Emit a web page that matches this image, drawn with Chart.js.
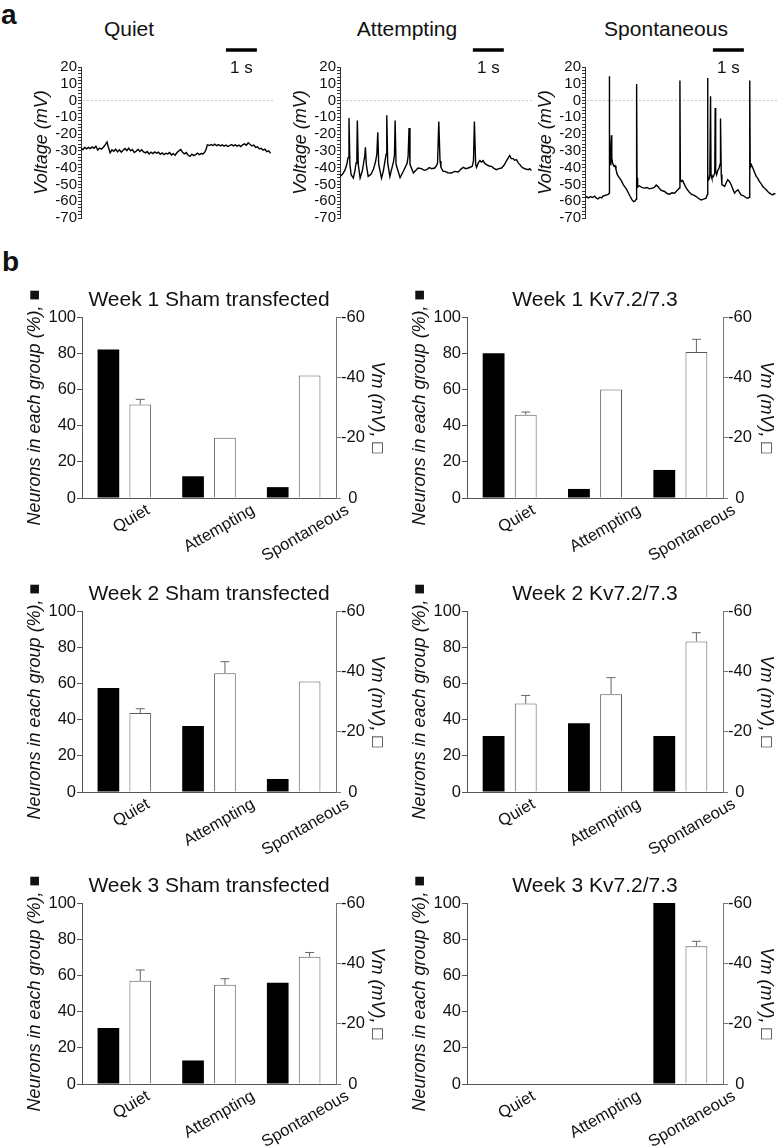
<!DOCTYPE html>
<html>
<head>
<meta charset="utf-8">
<script src="https://cdn.jsdelivr.net/npm/chart.js@4.4.1/dist/chart.umd.min.js"></script>
<style>
  body { margin: 0; background: #fff; }
  #page { position: relative; width: 777px; height: 1148px; overflow: hidden;
          font-family: 'Liberation Sans', Arial, sans-serif; color: #111; }
  canvas, .txt { position: absolute; }
  .panel { font-size: 28px; font-weight: bold; line-height: 1; }
  .trace-title { font-size: 21px; line-height: 1; width: 200px; text-align: center; }
</style>
</head>
<body>
<div id="page">
  <div class="txt panel" style="left:1px;top:1px">a</div>
  <div class="txt panel" style="left:2px;top:248px">b</div>
  <div class="txt trace-title" style="left:29px;top:18px">Quiet</div>
  <div class="txt trace-title" style="left:307px;top:18px">Attempting</div>
  <div class="txt trace-title" style="left:566px;top:18px">Spontaneous</div>

  <canvas id="traceQuiet" width="275" height="230" style="left:0;top:0"></canvas>
  <canvas id="traceAttempting" width="275" height="230" style="left:259px;top:0"></canvas>
  <canvas id="traceSpontaneous" width="275" height="230" style="left:504px;top:0"></canvas>

  <canvas id="wk1Sham" width="400" height="307" style="left:0;top:255px"></canvas>
  <canvas id="wk1Kv" width="377" height="307" style="left:400px;top:255px"></canvas>
  <canvas id="wk2Sham" width="400" height="307" style="left:0;top:549px"></canvas>
  <canvas id="wk2Kv" width="377" height="307" style="left:400px;top:549px"></canvas>
  <canvas id="wk3Sham" width="400" height="307" style="left:0;top:841px"></canvas>
  <canvas id="wk3Kv" width="377" height="307" style="left:400px;top:841px"></canvas>
</div>
<script>
// ---- panel a: membrane potential traces, [time (s), voltage (mV)] ----
const quietTrace = [
  [0.00,-28.5],[0.06,-29.2],[0.12,-28.0],[0.18,-28.8],[0.24,-27.9],[0.30,-28.6],[0.36,-27.6],[0.42,-28.4],
  [0.48,-27.2],[0.54,-29.5],[0.60,-28.3],[0.66,-29.0],[0.72,-27.8],[0.78,-26.5],[0.84,-24.7],[0.88,-27.5],
  [0.94,-31.2],[1.00,-29.4],[1.06,-30.2],[1.12,-29.0],[1.18,-30.6],[1.24,-29.4],[1.30,-30.8],[1.36,-29.6],
  [1.42,-28.6],[1.48,-29.8],[1.54,-28.4],[1.60,-30.0],[1.66,-29.2],[1.72,-31.0],[1.78,-30.2],[1.84,-29.0],
  [1.90,-30.4],[1.96,-29.3],[2.02,-30.6],[2.08,-31.2],[2.14,-30.4],[2.20,-31.8],[2.26,-30.8],[2.32,-31.6],
  [2.38,-30.6],[2.44,-31.4],[2.50,-30.8],[2.56,-32.0],[2.62,-31.2],[2.68,-32.2],[2.74,-31.4],[2.80,-31.8],
  [2.86,-31.0],[2.92,-32.4],[2.98,-31.6],[3.04,-32.6],[3.10,-31.0],[3.16,-30.0],[3.22,-29.2],[3.28,-30.8],
  [3.34,-31.8],[3.40,-31.0],[3.46,-32.6],[3.52,-33.2],[3.58,-32.0],[3.64,-32.8],[3.70,-32.2],[3.76,-31.4],
  [3.82,-32.2],[3.88,-31.6],[3.94,-31.8],[4.00,-30.6],[4.04,-29.0],[4.08,-26.4],[4.14,-26.8],[4.20,-26.2],
  [4.26,-26.8],[4.32,-26.0],[4.38,-26.9],[4.44,-26.3],[4.50,-27.0],[4.56,-26.4],[4.62,-27.2],[4.68,-26.6],
  [4.74,-27.3],[4.80,-26.8],[4.86,-26.2],[4.92,-27.0],[4.98,-26.4],[5.04,-27.2],[5.10,-26.6],[5.16,-27.4],
  [5.22,-26.4],[5.28,-25.8],[5.34,-26.6],[5.40,-25.2],[5.46,-26.2],[5.52,-27.0],[5.58,-26.6],[5.64,-28.0],
  [5.70,-27.6],[5.76,-28.8],[5.82,-28.4],[5.88,-29.6],[5.94,-29.0],[6.00,-30.4],[6.06,-30.0],[6.12,-31.4]
];
const attemptingTrace = [
  [0.00,-45.2],[0.08,-44.0],[0.16,-41.5],[0.22,-38.0],[0.26,-34.0],[0.29,-10.4],[0.32,-38.0],[0.36,-44.2],
  [0.43,-46.2],[0.48,-42.0],[0.52,-37.2],[0.545,-32.0],[0.56,-11.9],[0.59,-38.0],[0.65,-46.2],[0.72,-42.0],
  [0.77,-36.2],[0.80,-33.0],[0.82,-27.9],[0.85,-38.0],[0.91,-45.2],[1.00,-44.0],[1.08,-41.0],[1.15,-36.2],
  [1.19,-32.0],[1.22,-18.9],[1.25,-38.0],[1.34,-46.2],[1.40,-42.0],[1.45,-36.2],[1.49,-32.0],[1.51,-8.8],
  [1.54,-37.0],[1.61,-45.2],[1.68,-40.0],[1.73,-36.2],[1.76,-32.0],[1.78,-11.9],[1.81,-38.0],[1.94,-46.0],
  [2.05,-42.0],[2.17,-37.2],[2.20,-33.0],[2.23,-16.3],[2.26,-38.0],[2.37,-43.2],[2.45,-41.5],[2.52,-40.2],
  [2.63,-40.6],[2.72,-41.6],[2.80,-41.2],[2.88,-40.0],[2.96,-40.6],[3.06,-40.2],[3.12,-38.6],[3.15,-37.2],
  [3.19,-12.5],[3.23,-36.0],[3.26,-39.8],[3.33,-42.2],[3.39,-42.2],[3.48,-43.0],[3.60,-43.2],[3.70,-42.2],
  [3.82,-42.6],[3.90,-41.0],[3.98,-39.8],[4.06,-40.6],[4.14,-40.2],[4.22,-39.6],[4.27,-39.2],[4.31,-36.0],
  [4.34,-12.5],[4.38,-38.0],[4.41,-39.8],[4.47,-37.0],[4.52,-35.8],[4.57,-36.6],[4.62,-35.8],[4.68,-37.6],
  [4.73,-38.2],[4.81,-39.0],[4.89,-39.2],[4.97,-40.4],[5.05,-41.2],[5.13,-40.6],[5.22,-40.2],[5.30,-38.4],
  [5.38,-35.8],[5.44,-34.0],[5.48,-32.7],[5.53,-34.6],[5.59,-34.6],[5.64,-35.6],[5.70,-35.2],[5.75,-37.0],
  [5.81,-38.2],[5.86,-39.4],[5.91,-40.2],[5.99,-40.8],[6.08,-41.2],[6.13,-40.6],[6.18,-41.8]
];
const spontaneousTrace = [
  [0.00,-58.0],[0.06,-57.4],[0.12,-58.0],[0.18,-57.2],[0.24,-57.8],[0.31,-57.0],[0.37,-58.2],[0.42,-58.6],
  [0.48,-57.6],[0.54,-58.0],[0.58,-57.0],[0.64,-56.6],[0.70,-56.2],[0.76,-55.8],[0.78,-55.2],[0.785,14.5],
  [0.795,-30.0],[0.815,-38.2],[0.835,-28.0],[0.85,-20.7],[0.865,-34.0],[0.89,-37.2],[0.92,-38.6],[0.94,-39.2],
  [0.97,-38.8],[1.00,-41.0],[1.04,-44.0],[1.09,-45.6],[1.12,-46.2],[1.18,-48.0],[1.24,-50.2],[1.30,-51.8],
  [1.35,-53.2],[1.41,-55.4],[1.46,-57.2],[1.52,-59.2],[1.57,-60.2],[1.62,-59.8],[1.655,-58.8],[1.667,9.9],
  [1.68,-46.0],[1.70,-51.6],[1.76,-50.8],[1.83,-51.8],[1.92,-52.2],[2.00,-51.8],[2.08,-52.6],[2.17,-52.2],
  [2.24,-51.8],[2.30,-50.4],[2.36,-51.4],[2.45,-53.4],[2.57,-54.2],[2.65,-55.4],[2.73,-55.8],[2.81,-55.0],
  [2.89,-55.2],[2.95,-54.0],[3.00,-53.2],[3.055,-52.0],[3.065,11.9],[3.08,-47.0],[3.11,-48.2],[3.15,-47.6],
  [3.19,-49.2],[3.27,-52.2],[3.35,-54.2],[3.43,-55.8],[3.51,-56.4],[3.59,-57.2],[3.67,-58.4],[3.75,-59.2],
  [3.83,-58.8],[3.91,-58.2],[3.95,-56.0],[3.957,13.5],[3.97,-44.0],[3.99,-47.2],[4.03,-46.0],[4.054,2.6],
  [4.07,-44.0],[4.10,-46.2],[4.15,-45.2],[4.19,-43.0],[4.204,-4.4],[4.22,-42.0],[4.25,-44.2],[4.29,-41.6],
  [4.33,-40.2],[4.36,-38.0],[4.376,-10.7],[4.40,-44.0],[4.42,-50.2],[4.47,-50.6],[4.51,-51.2],[4.56,-49.0],
  [4.61,-47.2],[4.67,-48.4],[4.72,-50.2],[4.78,-53.0],[4.83,-55.2],[4.88,-54.0],[4.94,-53.2],[4.99,-54.8],
  [5.04,-56.2],[5.10,-56.6],[5.15,-57.2],[5.21,-58.0],[5.26,-58.2],[5.31,-57.6],[5.32,11.9],[5.335,-40.0],
  [5.37,-38.2],[5.42,-40.2],[5.48,-43.0],[5.53,-45.2],[5.58,-46.4],[5.63,-48.2],[5.69,-49.6],[5.74,-51.2],
  [5.80,-52.2],[5.85,-53.2],[5.91,-54.4],[5.96,-55.2],[6.01,-55.8],[6.06,-56.2],[6.11,-55.4],[6.15,-55.8]
];

// ---- panel b: % of neurons per group (black) and mean Vm ± SEM (white) ----
const states = ['Quiet', 'Attempting', 'Spontaneous'];
const wk1ShamPct = [82, 12, 6];
const wk1ShamVm = [-31, -20, -40.6];
const wk1ShamSem = [1.7, null, null];
const wk1KvPct = [80, 5, 15.5];
const wk1KvVm = [-27.6, -36, -48.4];
const wk1KvSem = [0.9, null, 4.2];
const wk2ShamPct = [57.5, 36.5, 7.2];
const wk2ShamVm = [-26.2, -39.4, -36.6];
const wk2ShamSem = [1.4, 3.8, null];
const wk2KvPct = [31, 38, 31];
const wk2KvVm = [-29.3, -32.4, -49.9];
const wk2KvSem = [2.7, 5.5, 2.9];
const wk3ShamPct = [31, 13, 56];
const wk3ShamVm = [-34.2, -32.9, -42.2];
const wk3ShamSem = [3.6, 2.0, 1.4];
const wk3KvPct = [0, 0, 100];
const wk3KvVm = [null, null, -45.7];
const wk3KvSem = [null, null, 1.6];

Chart.defaults.font.family = "'Liberation Sans', Arial, sans-serif";
Chart.defaults.color = '#111';

// dotted 0 mV line and the 1 s scale bar
const traceDeco = {
    id: 'traceDeco',
    beforeDatasetsDraw(chart) {
        const { ctx, chartArea, scales: { y } } = chart;
        const y0 = y.getPixelForValue(0);
        ctx.save();
        ctx.strokeStyle = '#c8c8c8';
        ctx.lineWidth = 1;
        ctx.setLineDash([2, 2]);
        ctx.beginPath();
        ctx.moveTo(chartArea.left + 2, y0);
        ctx.lineTo(chartArea.right, y0);
        ctx.stroke();
        ctx.restore();
    },
    afterDraw(chart, args, opts) {
        const { ctx, chartArea, scales: { x } } = chart;
        const x1 = x.getPixelForValue(opts.barStart);
        const x2 = x.getPixelForValue(opts.barStart + 1);
        ctx.save();
        ctx.strokeStyle = '#000';
        ctx.lineWidth = 3.5;
        ctx.beginPath();
        ctx.moveTo(x1, chartArea.top - 17);
        ctx.lineTo(x2, chartArea.top - 17);
        ctx.stroke();
        ctx.fillStyle = '#111';
        ctx.font = "17px 'Liberation Sans', Arial, sans-serif";
        ctx.textAlign = 'center';
        ctx.textBaseline = 'middle';
        ctx.fillText('1 s', (x1 + x2) / 2, chartArea.top + 1);
        ctx.restore();
    }
};

const traceChart = function (canvasId, trace, barStart) {
    new Chart(document.getElementById(canvasId), {
        type: 'line',
        data: {
            datasets: [{
                data: trace.map(([t, v]) => ({ x: t, y: v })),
                borderColor: '#000',
                borderWidth: 1.4,
                pointRadius: 0,
                tension: 0,
            }]
        },
        options: {
            responsive: false,
            animation: false,
            layout: { padding: { top: 67, bottom: 12, right: 2, left: 0 } },
            plugins: {
                legend: { display: false },
                tooltip: { enabled: false },
                traceDeco: { barStart: barStart },
            },
            scales: {
                x: { type: 'linear', display: false, min: 0, max: 6.2 },
                y: {
                    min: -70,
                    max: 20,
                    afterFit: (scale) => { scale.width = 81; },
                    border: { color: '#333' },
                    grid: { drawOnChartArea: false, tickLength: 3, color: '#333' },
                    ticks: {
                        stepSize: 2,
                        autoSkip: false,
                        padding: 1,
                        font: { size: 15 },
                        callback: (v) => (v % 10 === 0 ? v : ''),
                    },
                    title: {
                        display: true,
                        text: 'Voltage (mV)',
                        font: { size: 18, style: 'italic' },
                        padding: { top: 31, bottom: 0 },
                    },
                },
            },
        },
        plugins: [traceDeco],
    });
};

// panel title, rotated category labels and SEM error bars on the white bars
const groupDeco = {
    id: 'groupDeco',
    afterDatasetsDraw(chart) {
        const { ctx } = chart;
        const ds = chart.data.datasets[1];
        const meta = chart.getDatasetMeta(1);
        const y1 = chart.scales.y1;
        ctx.save();
        ctx.strokeStyle = '#666';
        ctx.lineWidth = 1;
        meta.data.forEach((bar, i) => {
            const sem = ds.sem[i];
            if (sem == null || ds.data[i] == null) return;
            const yTop = y1.getPixelForValue(ds.data[i] - sem);
            ctx.beginPath();
            ctx.moveTo(bar.x, bar.y);
            ctx.lineTo(bar.x, yTop);
            ctx.moveTo(bar.x - 4.5, yTop);
            ctx.lineTo(bar.x + 4.5, yTop);
            ctx.stroke();
        });
        ctx.restore();
    },
    afterDraw(chart, args, opts) {
        const { ctx, chartArea, scales: { x } } = chart;
        ctx.save();
        ctx.fillStyle = '#111';
        ctx.textAlign = 'center';
        ctx.textBaseline = 'middle';
        ctx.font = "21px 'Liberation Sans', Arial, sans-serif";
        ctx.fillText(opts.title, (chartArea.left + chartArea.right) / 2, chartArea.top - 17);
        ctx.font = "16.5px 'Liberation Sans', Arial, sans-serif";
        chart.data.labels.forEach((label, i) => {
            const px = x.getPixelForTick(i);
            const w = ctx.measureText(label).width;
            ctx.save();
            ctx.translate(px + 4 + 0.08 * w, chartArea.bottom + 11 + 0.25 * w);
            ctx.rotate(-Math.PI / 6);
            ctx.fillText(label, 0, 0);
            ctx.restore();
        });
        ctx.restore();
    }
};

const leftCol = { yWidth: 82, yTitlePad: 24, y1Width: 64, y1TitlePad: 12 };
const rightCol = { yWidth: 67, yTitlePad: 9, y1Width: 54, y1TitlePad: 0 };

const groupChart = function (canvasId, title, pct, vm, sem, col) {
    const barShape = { categoryPercentage: 0.753, barPercentage: 0.68 };
    new Chart(document.getElementById(canvasId), {
        type: 'bar',
        data: {
            labels: states,
            datasets: [
                { data: pct, yAxisID: 'y', backgroundColor: '#000', borderWidth: 0, ...barShape },
                { data: vm, sem: sem, yAxisID: 'y1', backgroundColor: '#fff',
                  borderColor: '#5a5a5a', borderWidth: 1, ...barShape },
            ]
        },
        options: {
            responsive: false,
            animation: false,
            layout: { padding: { top: 62, bottom: 0, left: 0, right: 0 } },
            plugins: {
                legend: { display: false },
                tooltip: { enabled: false },
                groupDeco: { title: title },
            },
            scales: {
                x: {
                    grid: { display: false },
                    border: { color: '#555' },
                    ticks: { display: false },
                    afterFit: (scale) => { scale.height = 64; },
                },
                y: {
                    position: 'left',
                    min: 0,
                    max: 100,
                    ticks: { stepSize: 20, padding: 1, font: { size: 16.5 } },
                    grid: { drawOnChartArea: false, tickLength: 5, color: '#555' },
                    border: { color: '#555' },
                    title: {
                        display: true,
                        text: 'Neurons in each group (%), \u25A0',
                        font: { size: 18, style: 'italic' },
                        padding: { top: col.yTitlePad, bottom: 0 },
                    },
                    afterFit: (scale) => { scale.width = col.yWidth; },
                },
                y1: {
                    position: 'right',
                    reverse: true,
                    min: -60,
                    max: 0,
                    ticks: { stepSize: 20, padding: 0, crossAlign: 'center', font: { size: 16.5 } },
                    grid: { drawOnChartArea: false, tickLength: 5, color: '#777' },
                    border: { color: '#777' },
                    title: {
                        display: true,
                        text: 'Vm (mV), \u25A1',
                        font: { size: 18, style: 'italic' },
                        padding: { top: col.y1TitlePad, bottom: 0 },
                    },
                    afterFit: (scale) => { scale.width = col.y1Width; },
                },
            },
        },
        plugins: [groupDeco],
    });
};

traceChart('traceQuiet', quietTrace, 4.68);
traceChart('traceAttempting', attemptingTrace, 4.29);
traceChart('traceSpontaneous', spontaneousTrace, 4.13);

groupChart('wk1Sham', 'Week 1 Sham transfected', wk1ShamPct, wk1ShamVm, wk1ShamSem, leftCol);
groupChart('wk1Kv', 'Week 1 Kv7.2/7.3', wk1KvPct, wk1KvVm, wk1KvSem, rightCol);
groupChart('wk2Sham', 'Week 2 Sham transfected', wk2ShamPct, wk2ShamVm, wk2ShamSem, leftCol);
groupChart('wk2Kv', 'Week 2 Kv7.2/7.3', wk2KvPct, wk2KvVm, wk2KvSem, rightCol);
groupChart('wk3Sham', 'Week 3 Sham transfected', wk3ShamPct, wk3ShamVm, wk3ShamSem, leftCol);
groupChart('wk3Kv', 'Week 3 Kv7.2/7.3', wk3KvPct, wk3KvVm, wk3KvSem, rightCol);
</script>
</body>
</html>
